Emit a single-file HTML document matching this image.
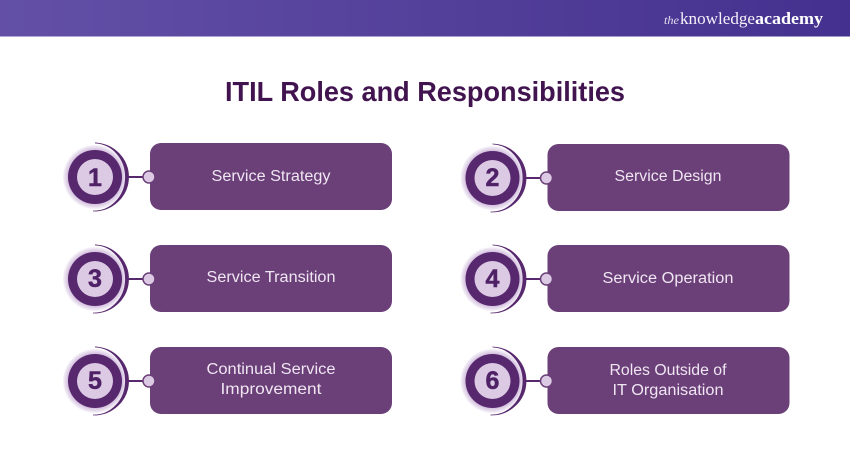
<!DOCTYPE html>
<html><head><meta charset="utf-8"><style>
html,body{margin:0;padding:0;background:#fff}
svg{display:block}
text{font-family:"Liberation Sans",sans-serif}
</style></head><body>
<svg width="850" height="450" viewBox="0 0 850 450" xmlns="http://www.w3.org/2000/svg">
<defs>
<linearGradient id="hd" x1="0" x2="1" y1="0" y2="0"><stop offset="0" stop-color="#6350a6"/><stop offset="1" stop-color="#44318f"/></linearGradient>
<radialGradient id="halo"><stop offset="0.82" stop-color="#cdb6da"/><stop offset="1" stop-color="#f8f5fa"/></radialGradient>
<g id="n">
<circle cx="95" cy="177" r="32" fill="url(#halo)"/>
<circle cx="95" cy="177" r="27" fill="#57286e"/>
<circle cx="95" cy="177" r="18" fill="#dcc9e4"/>
<path d="M95 143A34.500 34 0 0 1 93 211A31.500 34 0 0 0 95 143Z" fill="#57286e" stroke="#57286e" stroke-width="0.800"/>
<path d="M128 177H143" stroke="#57286e" stroke-width="2"/>
<rect x="150" y="143" width="242" height="67" rx="11" fill="#6b3f78"/>
<circle cx="149" cy="177" r="6" fill="#dcc9e4" stroke="#6b3f78" stroke-width="1.500"/>
</g>
</defs>
<rect width="850" height="36.500" fill="url(#hd)"/>
<text x="664" y="24" style="font-family:'Liberation Serif',serif" font-size="12" font-style="italic" fill="#e6e0f0" textLength="15" lengthAdjust="spacingAndGlyphs">the</text>
<text x="680" y="24" style="font-family:'Liberation Serif',serif" font-size="17" fill="#f4f1f9" textLength="75" lengthAdjust="spacingAndGlyphs">knowledge</text>
<text x="755" y="24" style="font-family:'Liberation Serif',serif" font-size="17" font-weight="bold" fill="#fff" textLength="68" lengthAdjust="spacingAndGlyphs">academy</text>
<text x="225" y="101" font-size="28" font-weight="bold" fill="#41144f" textLength="400" lengthAdjust="spacingAndGlyphs">ITIL Roles and Responsibilities</text>

<use href="#n"/><use href="#n" x="397.500" y="1"/>
<use href="#n" y="102"/><use href="#n" x="397.500" y="102"/>
<use href="#n" y="204"/><use href="#n" x="397.500" y="204"/>

<g font-size="25" font-weight="bold" fill="#4f2166" stroke="#4f2166" stroke-width="0.500" text-anchor="middle">
<text x="95" y="186">1</text><text x="492.500" y="186">2</text>
<text x="95" y="287">3</text><text x="492.500" y="287">4</text>
<text x="95" y="389">5</text><text x="492.500" y="389">6</text>
</g>
<g font-size="15.500" fill="#efe6f2" text-anchor="middle">
<text x="271" y="181" textLength="119" lengthAdjust="spacingAndGlyphs">Service Strategy</text>
<text x="668" y="181" textLength="107" lengthAdjust="spacingAndGlyphs">Service Design</text>
<text x="271" y="282" textLength="129" lengthAdjust="spacingAndGlyphs">Service Transition</text>
<text x="668" y="283" textLength="131" lengthAdjust="spacingAndGlyphs">Service Operation</text>
<text x="271" y="374" textLength="129" lengthAdjust="spacingAndGlyphs">Continual Service</text>
<text x="271" y="394" textLength="101" lengthAdjust="spacingAndGlyphs">Improvement</text>
<text x="668" y="375" textLength="117" lengthAdjust="spacingAndGlyphs">Roles Outside of</text>
<text x="668" y="395" textLength="111" lengthAdjust="spacingAndGlyphs">IT Organisation</text>
</g>
</svg>
</body></html>
